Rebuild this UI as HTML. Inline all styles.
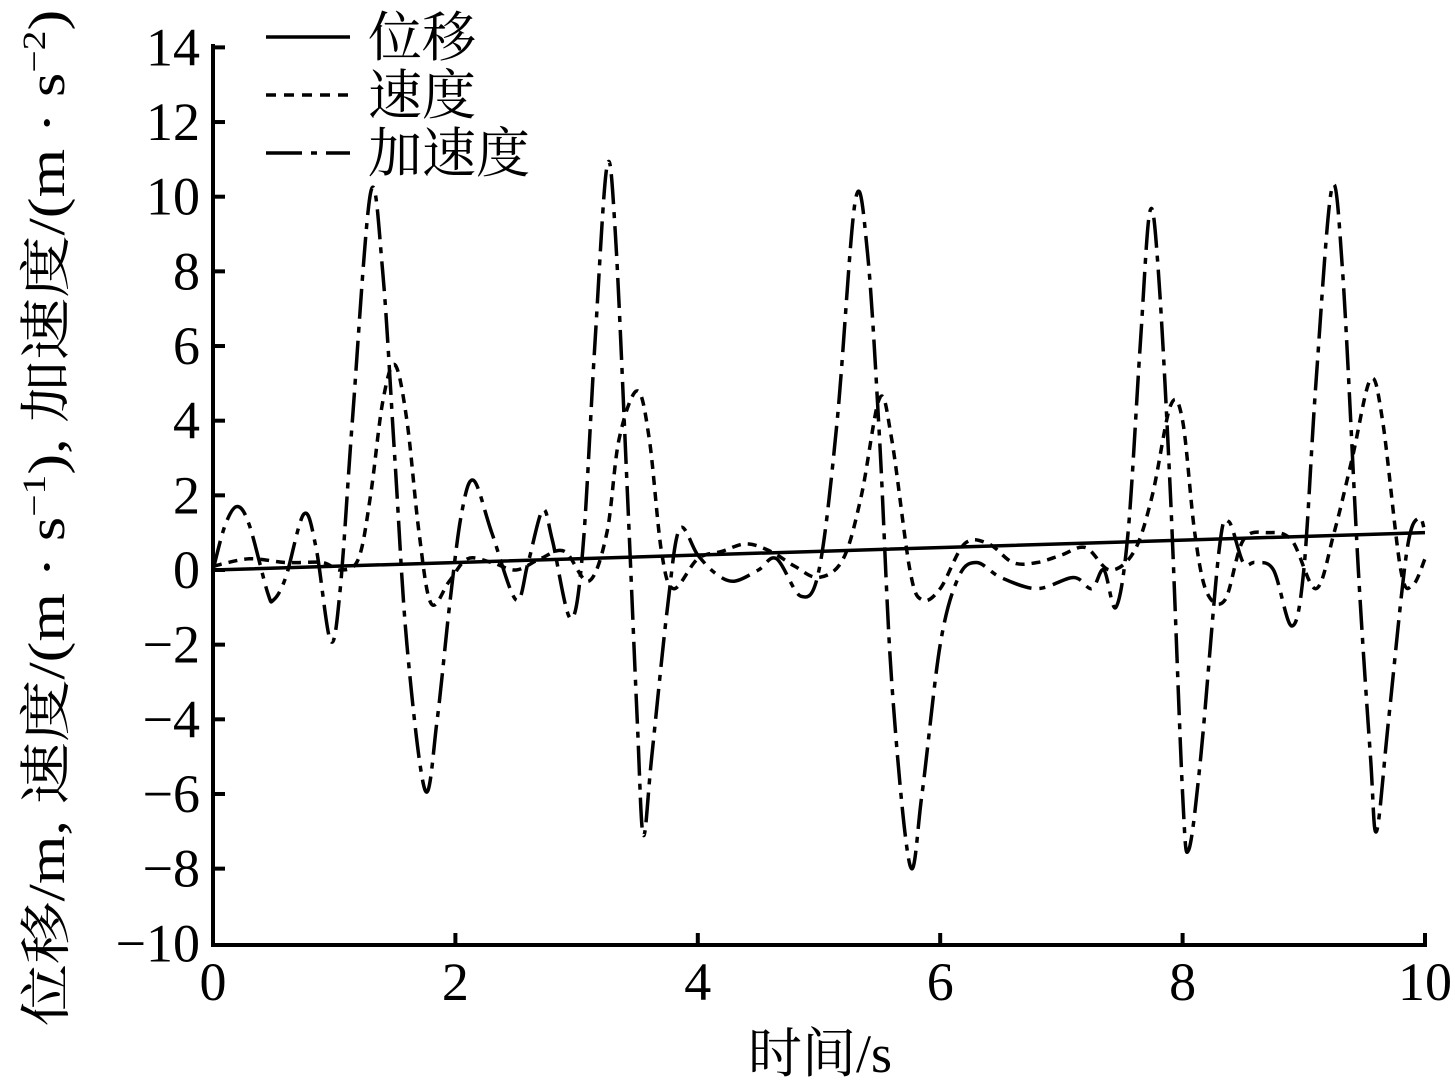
<!DOCTYPE html>
<html><head><meta charset="utf-8"><style>
body{margin:0;background:#fff}
svg text{font-family:"Liberation Serif","Noto Serif CJK SC",serif;fill:#000}
</style></head><body>
<svg id="s" width="1455" height="1087" viewBox="0 0 1455 1087" xmlns="http://www.w3.org/2000/svg">
<g stroke="#000" stroke-width="4" fill="none">
<path d="M213,44 V945 H1427"/>
</g>
<g id="ticks" stroke="#000" stroke-width="4"></g>
<g id="lbl" font-size="54"></g>
<text x="820" y="1072" font-size="54" text-anchor="middle">时间/s</text>
<text transform="translate(64,518) rotate(-90) scale(1.2,1)" font-size="52" text-anchor="middle">位移/m, 速度/(m · s<tspan dy="-19" font-size="33">−1</tspan><tspan dy="19">), 加速度/(m · s</tspan><tspan dy="-19" font-size="33">−2</tspan><tspan dy="19">)</tspan></text>
<g stroke="#000" stroke-width="3.5" fill="none">
<path d="M266,37 H350"/>
<path d="M266,95 H350" stroke-dasharray="10,8"/>
<path d="M266,153 H302 M311,153 H317 M326,153 H350"/>
</g>
<text x="368" y="56" font-size="54">位移</text>
<text x="368" y="114" font-size="54">速度</text>
<text x="368" y="172" font-size="54">加速度</text>
<g id="series" fill="none" stroke="#000" stroke-width="3.5"></g>
</svg>
<script>
const X=v=>213+v*121.2, Y=v=>570-v*37.33;
const t=document.getElementById('ticks'),l=document.getElementById('lbl'),ns='http://www.w3.org/2000/svg';
function el(p,n,a,txt){const e=document.createElementNS(ns,n);for(const k in a)e.setAttribute(k,a[k]);if(txt!=null)e.textContent=txt;p.appendChild(e);return e;}
for(let v=-10;v<=14;v+=2){const y=Y(v);if(v>-10)el(t,'line',{x1:213,x2:225,y1:y,y2:y});el(l,'text',{x:200,y:y+18,'text-anchor':'end'},v<0?'−'+(-v):v);}
for(let v=0;v<=10;v+=2){const x=X(v);if(v>0)el(t,'line',{x1:x,x2:x,y1:945,y2:933});el(l,'text',{x:x,y:1000,'text-anchor':'middle'},v);}
function path(pts){const p=pts.map(a=>[X(a[0]),Y(a[1])]);let d='M'+p[0][0]+','+p[0][1];for(let i=0;i<p.length-1;i++){const p0=p[Math.max(0,i-1)],p1=p[i],p2=p[i+1],p3=p[Math.min(p.length-1,i+2)];d+=' C'+(p1[0]+(p2[0]-p0[0])/6)+','+(p1[1]+(p2[1]-p0[1])/6)+' '+(p2[0]-(p3[0]-p1[0])/6)+','+(p2[1]-(p3[1]-p1[1])/6)+' '+p2[0]+','+p2[1];}return d;}
const acc=[[0,0],[0.1,1.2],[0.2,1.7],[0.3,1.2],[0.45,-0.6],[0.5,-0.8],[0.6,-0.2],[0.75,1.5],[0.85,0.6],[0.97,-1.9],[1.05,-0.5],[1.15,4],[1.3,10.1],[1.4,8],[1.5,3],[1.6,-2],[1.75,-5.9],[1.85,-4],[1.95,-1],[2.05,1.5],[2.15,2.4],[2.3,1],[2.5,-0.8],[2.6,0.2],[2.72,1.6],[2.8,0.8],[2.95,-1.3],[3.05,0.5],[3.15,6],[3.25,10.8],[3.32,9],[3.42,2],[3.5,-4],[3.55,-7.1],[3.62,-5],[3.75,-1],[3.85,1.1],[4,0.4],[4.15,-0.1],[4.3,-0.3],[4.5,0],[4.65,0.3],[4.85,-0.7],[5,0],[5.15,4],[5.3,9.9],[5.4,8.5],[5.5,3.5],[5.6,-3],[5.75,-7.9],[5.85,-6],[6,-2],[6.15,-0.2],[6.3,0.2],[6.5,-0.2],[6.8,-0.5],[7.1,-0.2],[7.25,-0.5],[7.35,0],[7.45,-1],[7.55,1],[7.65,6],[7.73,9.6],[7.8,8],[7.9,2],[8.0,-6],[8.05,-7.5],[8.15,-5],[8.3,0.5],[8.38,1.3],[8.5,0.2],[8.6,0.2],[8.75,0],[8.9,-1.5],[9.0,0],[9.1,5],[9.23,10.2],[9.32,8],[9.45,0],[9.55,-5],[9.6,-7],[9.7,-4],[9.85,0.5],[9.95,1.4],[10,1]];
const vel=[[0,0.1],[0.3,0.3],[0.6,0.2],[0.9,0.2],[1.05,0],[1.2,0.3],[1.3,2],[1.4,4.5],[1.5,5.5],[1.6,4],[1.7,1],[1.8,-0.9],[1.95,-0.3],[2.1,0.3],[2.3,0.2],[2.5,0],[2.7,0.3],[2.9,0.5],[3.1,-0.3],[3.25,1],[3.35,3.5],[3.5,4.8],[3.6,3.5],[3.7,0.5],[3.8,-0.5],[4,0.3],[4.2,0.5],[4.4,0.7],[4.6,0.5],[4.8,0.1],[5,-0.2],[5.2,0.3],[5.35,2],[5.5,4.6],[5.6,3.5],[5.75,0],[5.85,-0.8],[6,-0.5],[6.2,0.7],[6.4,0.7],[6.6,0.2],[6.8,0.2],[7.0,0.4],[7.2,0.6],[7.4,0],[7.6,0.5],[7.75,2],[7.9,4.4],[8.0,4],[8.1,1],[8.2,-0.6],[8.35,-0.8],[8.5,0.8],[8.7,1],[8.9,0.8],[9.1,-0.5],[9.25,1],[9.4,3],[9.55,5.1],[9.65,4],[9.8,0],[9.9,-0.4],[10,0.3]];
const s=document.getElementById('series');
el(s,'path',{d:path([[0,0],[10,1]])});
el(s,'path',{d:path(vel),'stroke-dasharray':'9,7'});
el(s,'path',{d:path(acc),'stroke-dasharray':'30,8,6,8'});
</script>
</body></html>
